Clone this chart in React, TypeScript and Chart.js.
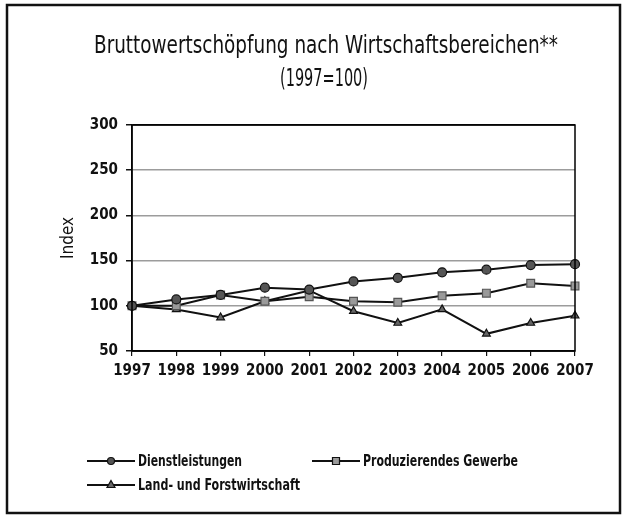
import React, { useEffect, useRef } from "react";
import { Chart, registerables } from "chart.js";

Chart.register(...registerables);

const TITLE_LINES = ["Bruttowertschöpfung nach Wirtschaftsbereichen**", "(1997=100)"];
const Y_TITLE = "Index";
const YEARS = ["1997", "1998", "1999", "2000", "2001", "2002", "2003", "2004", "2005", "2006", "2007"];
const SERIES_NAMES = ["Dienstleistungen", "Produzierendes Gewerbe", "Land- und Forstwirtschaft"];
const DIENSTLEISTUNGEN = [100, 107, 112, 120, 118, 127, 131, 137, 140, 145, 146];
const PRODUZIERENDES = [100, 100, 112, 105, 110, 105, 104, 111, 114, 125, 122];
const LAND_FORST = [100, 96, 87, 105, 117, 94, 81, 96, 69, 81, 89];
const Y_MIN = 50;
const Y_MAX = 300;
const Y_STEP = 50;

const FONT = "'DejaVu Sans Condensed', 'Liberation Sans Narrow', sans-serif";

function fillTextWidth(ctx: CanvasRenderingContext2D, text: string, x: number, y: number, width: number, align: "left" | "center") {
  const w = ctx.measureText(text).width;
  const s = width / w;
  ctx.save();
  ctx.translate(x, y);
  ctx.scale(s, 1);
  ctx.textAlign = align;
  ctx.fillText(text, 0, 0);
  ctx.restore();
}

export default function App() {
  const ref = useRef<HTMLCanvasElement | null>(null);

  useEffect(() => {
    document.body.style.margin = "0";
    const canvas = ref.current;
    if (!canvas) return;

    const framePlugin = {
      id: "framePlugin",
      beforeDraw(chart: any) {
        const ctx = chart.ctx;
        ctx.save();
        ctx.fillStyle = "#ffffff";
        ctx.fillRect(0, 0, chart.width, chart.height);
        ctx.restore();
      },
      afterDraw(chart: any) {
        const ctx = chart.ctx;
        const ca = chart.chartArea;
        ctx.save();
        // plot box
        ctx.strokeStyle = "#000";
        ctx.lineWidth = 1.5;
        ctx.strokeRect(ca.left, ca.top, ca.right - ca.left, ca.bottom - ca.top);
        // outer frame
        ctx.lineWidth = 2.5;
        ctx.strokeStyle = "#111";
        ctx.strokeRect(7, 5, 613, 508);
        // title
        ctx.fillStyle = "#111";
        ctx.textBaseline = "middle";
        ctx.font = `24px ${FONT}`;
        fillTextWidth(ctx, TITLE_LINES[0], 326, 47, 464, "center");
        fillTextWidth(ctx, TITLE_LINES[1], 324, 80, 88, "center");
        // legend
        const positions = [
          { x: 87, y: 461, w: 104 },
          { x: 312, y: 461, w: 155 },
          { x: 87, y: 485, w: 162 },
        ];
        chart.data.datasets.forEach((ds: any, i: number) => {
          const p = positions[i];
          ctx.strokeStyle = "#111";
          ctx.lineWidth = 2;
          ctx.beginPath();
          ctx.moveTo(p.x, p.y);
          ctx.lineTo(p.x + 48, p.y);
          ctx.stroke();
          const cx = p.x + 24;
          const r = 3.5;
          ctx.fillStyle = ds.pointBackgroundColor;
          ctx.strokeStyle = "#111";
          ctx.lineWidth = 1.2;
          ctx.beginPath();
          if (ds.pointStyle === "circle") {
            ctx.arc(cx, p.y, r, 0, Math.PI * 2);
          } else if (ds.pointStyle === "rect") {
            ctx.rect(cx - r, p.y - r, 2 * r, 2 * r);
          } else {
            ctx.moveTo(cx, p.y - r - 1);
            ctx.lineTo(cx + r + 0.5, p.y + r - 1);
            ctx.lineTo(cx - r - 0.5, p.y + r - 1);
            ctx.closePath();
          }
          ctx.fill();
          ctx.stroke();
          ctx.fillStyle = "#111";
          ctx.textBaseline = "middle";
          ctx.font = `bold 16px ${FONT}`;
          fillTextWidth(ctx, ds.label, p.x + 51, p.y + 1, p.w, "left");
        });
        ctx.restore();
      },
    };

    const chart = new Chart(canvas, {
      type: "line",
      data: {
        labels: YEARS,
        datasets: [
          {
            label: SERIES_NAMES[0],
            data: DIENSTLEISTUNGEN,
            borderColor: "#111",
            borderWidth: 2,
            pointStyle: "circle",
            pointRadius: 4.5,
            pointBackgroundColor: "#555",
            pointBorderColor: "#111",
            pointBorderWidth: 1.2,
            tension: 0,
          },
          {
            label: SERIES_NAMES[1],
            data: PRODUZIERENDES,
            borderColor: "#111",
            borderWidth: 2,
            pointStyle: "rect",
            pointRadius: 5.5,
            pointBackgroundColor: "#9a9a9a",
            pointBorderColor: "#555",
            pointBorderWidth: 1.2,
            tension: 0,
          },
          {
            label: SERIES_NAMES[2],
            data: LAND_FORST,
            borderColor: "#111",
            borderWidth: 2,
            pointStyle: "triangle",
            pointRadius: 4.5,
            pointBackgroundColor: "#666",
            pointBorderColor: "#111",
            pointBorderWidth: 1.2,
            tension: 0,
          },
        ],
      },
      options: {
        responsive: false,
        animation: false,
        layout: { padding: { left: 58, right: 51, top: 125, bottom: 0 } },
        plugins: {
          legend: { display: false },
          title: { display: false },
          tooltip: { enabled: false },
        },
        scales: {
          x: {
            offset: false,
            afterFit: (scale: any) => {
              scale.height = 165;
            },
            grid: {
              drawOnChartArea: false,
              tickLength: 5,
              tickColor: "#111",
              lineWidth: 1.2,
            },
            border: { color: "#111", width: 1.5 },
            ticks: {
              color: "#111",
              padding: 6,
              maxRotation: 0,
              autoSkip: false,
              font: { family: FONT, size: 15, weight: "bold" },
            },
          },
          y: {
            min: Y_MIN,
            max: Y_MAX,
            afterFit: (scale: any) => {
              scale.width = 74;
            },
            title: {
              display: true,
              text: Y_TITLE,
              color: "#111",
              padding: 0,
              font: { family: FONT, size: 17 },
            },
            grid: {
              color: (c: any) => (c.tick && (c.tick.value === Y_MIN || c.tick.value === Y_MAX) ? "#111" : "#9c9c9c"),
              lineWidth: 1.5,
              tickLength: 6,
              tickColor: "#111",
            },
            border: { color: "#111", width: 1.5 },
            ticks: {
              stepSize: Y_STEP,
              color: "#111",
              padding: 8,
              font: { family: FONT, size: 15, weight: "bold" },
            },
          },
        },
      },
      plugins: [framePlugin],
    });

    return () => chart.destroy();
  }, []);

  return <canvas ref={ref} width={626} height={516} style={{ display: "block" }} />;
}
